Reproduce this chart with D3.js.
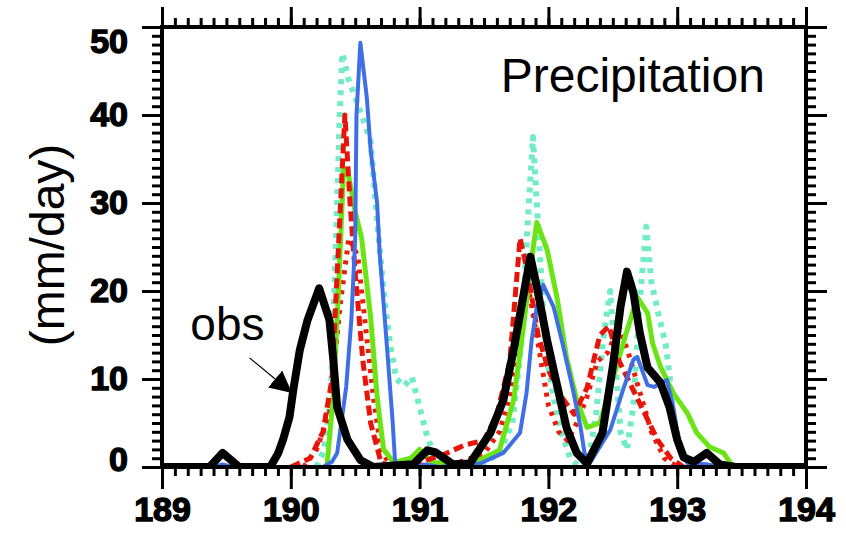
<!DOCTYPE html>
<html>
<head>
<meta charset="utf-8">
<script src="https://cdn.jsdelivr.net/npm/d3@7"></script>
<style>
  body { margin: 0; background: #fff; }
  svg text { font-family: "Liberation Sans", Arial, sans-serif; }
  .tick-label { font-weight: bold; font-size: 34px; fill: #000; stroke: #000; stroke-width: 1.4px; }
</style>
</head>
<body>
<div id="chart"></div>
<script>
// [day, mm/day]
const obs = [
  [189.0, 0], [189.37, 0], [189.47, 1.6], [189.6, 0], [189.84, 0], [189.9, 1.5], [189.94, 3.1],
  [189.99, 5.7], [190.02, 8.8], [190.07, 13.3], [190.13, 16.7], [190.22, 20.3], [190.3, 16.7],
  [190.33, 12.2], [190.36, 6.8], [190.44, 3.1], [190.54, 0.8], [190.64, 0], [190.95, 0.3],
  [191.06, 1.9], [191.12, 1.7], [191.26, 0.3], [191.39, 0.4], [191.55, 3.9], [191.65, 7.6],
  [191.73, 13.3], [191.8, 19], [191.86, 23.9], [191.91, 20.5], [191.99, 14.4], [192.07, 9.1],
  [192.14, 4.5], [192.22, 1.6], [192.3, 0.4], [192.42, 3.9], [192.5, 11.4], [192.56, 18.2],
  [192.61, 22.2], [192.66, 19.8], [192.71, 15.2], [192.77, 11.3], [192.87, 9.6], [192.94, 6.8],
  [193.0, 3.1], [193.05, 1.1], [193.13, 0.6], [193.23, 1.6], [193.33, 0.3], [193.45, 0], [194.0, 0]
];
const modelBlue = [
  [189.0, 0], [189.4, 0], [189.47, 0.3], [189.55, 0], [190.25, 0], [190.32, 0.6], [190.36, 1.6],
  [190.43, 9.1], [190.47, 16.7], [190.5, 26], [190.51, 40], [190.54, 48.2], [190.59, 42],
  [190.62, 36], [190.67, 30], [190.69, 24.3], [190.75, 13], [190.79, 5.3], [190.81, 0.5],
  [190.95, 0], [191.05, 0.3], [191.15, 0], [191.47, 0.4], [191.65, 1.6], [191.78, 3.9],
  [191.83, 8.4], [191.87, 14.4], [191.91, 18.2], [191.96, 20.7], [192.04, 18.2], [192.11, 14],
  [192.19, 8.8], [192.25, 4.5], [192.28, 1.6], [192.32, 0.4], [192.48, 4.2], [192.58, 8.8],
  [192.66, 12.2], [192.69, 12.5], [192.77, 9.3], [192.82, 9.1], [192.92, 9.9], [192.97, 6.8],
  [193.02, 2.3], [193.08, 0.4], [193.23, 0.3], [193.35, 0], [194.0, 0]
];
const modelGreen = [
  [190.28, 0], [190.33, 8], [190.37, 20], [190.41, 34], [190.45, 33], [190.5, 29], [190.55, 26],
  [190.62, 17], [190.67, 8], [190.72, 2], [190.8, 0.5], [190.93, 1], [191.0, 2], [191.1, 0.5],
  [191.4, 0.3], [191.62, 1.9], [191.73, 7.6], [191.8, 15.2], [191.88, 24.7], [191.91, 27.8],
  [191.99, 24.7], [192.07, 19], [192.14, 12.5], [192.22, 7.6], [192.3, 4.5], [192.4, 5],
  [192.5, 10], [192.6, 15], [192.69, 19.3], [192.77, 17.5], [192.81, 14], [192.87, 11.4],
  [192.97, 8.4], [193.08, 6.1], [193.15, 3.9], [193.25, 2.3], [193.36, 1.6], [193.42, 0.3],
  [193.5, 0]
];
const modelAqua = [
  [190.2, 0], [190.26, 2], [190.31, 8], [190.35, 25], [190.38, 40], [190.4, 47], [190.45, 44],
  [190.55, 40], [190.62, 37], [190.67, 28], [190.72, 20], [190.77, 14], [190.82, 10],
  [190.88, 9.2], [190.94, 10.2], [191.0, 6.8], [191.06, 3.4], [191.13, 0.8], [191.25, 0],
  [191.5, 0.5], [191.62, 1.5], [191.72, 5], [191.79, 14], [191.84, 28], [191.88, 37.5],
  [191.93, 25], [191.98, 13], [192.04, 8], [192.1, 4], [192.17, 1], [192.24, 0], [192.31, 0.5],
  [192.37, 6], [192.43, 15], [192.48, 20], [192.52, 12], [192.56, 4], [192.61, 2], [192.66, 7],
  [192.71, 19], [192.76, 27.3], [192.8, 21], [192.86, 17], [192.91, 14], [192.94, 10.5],
  [192.97, 5.7], [193.03, 2], [193.1, 0.5], [193.2, 0]
];
const modelRedA = [
  [190.0, 0], [190.15, 1], [190.25, 4], [190.32, 10], [190.37, 25], [190.42, 40], [190.46, 30],
  [190.5, 22], [190.56, 12], [190.62, 5], [190.7, 0.5], [190.8, 0], [191.0, 0.5], [191.2, 1.5],
  [191.35, 2.5], [191.5, 3], [191.6, 6], [191.7, 12], [191.78, 26], [191.84, 22], [191.92, 15],
  [192.0, 11], [192.1, 8], [192.2, 6], [192.3, 9], [192.4, 15], [192.47, 16], [192.55, 12],
  [192.65, 9], [192.75, 6], [192.85, 3], [192.95, 1], [193.05, 0]
];
const modelRedB = [
  [190.1, 0], [190.2, 2], [190.3, 6], [190.38, 18], [190.45, 26], [190.52, 24], [190.58, 16],
  [190.64, 8], [190.7, 2], [190.78, 0], [191.3, 0.5], [191.5, 1.5], [191.62, 4], [191.7, 8],
  [191.78, 16], [191.85, 20], [191.92, 14], [192.0, 7], [192.08, 4], [192.15, 3], [192.22, 5],
  [192.3, 8], [192.38, 12], [192.46, 13], [192.55, 16], [192.62, 13], [192.7, 9], [192.8, 4],
  [192.9, 1], [193.0, 0]
];

const xTicks = [189, 190, 191, 192, 193, 194];
const yTicks = [0, 10, 20, 30, 40, 50];

const width = 846;
const height = 549;
const margin = { top: 27, right: 40, bottom: 82, left: 162 };
const innerW = width - margin.left - margin.right;
const innerH = height - margin.top - margin.bottom;

const svg = d3.select('#chart').append('svg')
  .attr('width', width)
  .attr('height', height);
const g = svg.append('g').attr('transform', `translate(${margin.left},${margin.top})`);

const x = d3.scaleLinear().domain([189, 194]).range([0, innerW]);
const y = d3.scaleLinear().domain([0, 50]).range([innerH, 0]);

g.append('clipPath').attr('id', 'plot-clip')
  .append('rect').attr('width', innerW).attr('height', innerH);

// series, drawn back to front
const series = [
  { data: modelAqua, color: '#72ecc6', width: 6, dash: '5 6' },
  { data: modelRedB, color: '#ec1c0c', width: 5, dash: '4 6' },
  { data: modelGreen, color: '#6ae414', width: 5, dash: null },
  { data: modelRedA, color: '#e81408', width: 5, dash: '10 5' },
  { data: modelBlue, color: '#3f6fe4', width: 4, dash: null },
  { data: obs, color: '#000', width: 8, dash: null }
];

const line = d3.line().x(d => x(d[0])).y(d => y(d[1]));

g.append('g').attr('clip-path', 'url(#plot-clip)')
  .selectAll('path')
  .data(series)
  .join('path')
  .attr('fill', 'none')
  .attr('stroke', d => d.color)
  .attr('stroke-width', d => d.width)
  .attr('stroke-dasharray', d => d.dash)
  .attr('stroke-linejoin', 'round')
  .attr('d', d => line(d.data));

// axes: major + minor ticks all pointing outward
function styleAxis(sel) {
  sel.select('.domain').remove();
  sel.selectAll('line').attr('stroke', '#000').attr('stroke-width', 3);
}

const minorX = d3.range(1890, 1941).map(d => d / 10);
const minorY = d3.range(0, 51);

g.append('g').attr('transform', `translate(0,${innerH})`)
  .call(d3.axisBottom(x).tickValues(minorX).tickSize(9).tickFormat(''))
  .call(styleAxis);
const xAxis = g.append('g').attr('transform', `translate(0,${innerH})`)
  .call(d3.axisBottom(x).tickValues(xTicks).tickSize(22).tickPadding(8).tickFormat(d3.format('d')))
  .call(styleAxis);
xAxis.selectAll('text').attr('class', 'tick-label');

g.append('g')
  .call(d3.axisTop(x).tickValues(minorX).tickSize(9).tickFormat(''))
  .call(styleAxis);
g.append('g')
  .call(d3.axisTop(x).tickValues(xTicks).tickSize(20).tickFormat(''))
  .call(styleAxis);

g.append('g')
  .call(d3.axisLeft(y).tickValues(minorY).tickSize(10).tickFormat(''))
  .call(styleAxis);
const yAxis = g.append('g')
  .call(d3.axisLeft(y).tickValues(yTicks).tickSize(20).tickPadding(14).tickFormat(d3.format('d')))
  .call(styleAxis);
// keep the end labels inside the frame height
yAxis.selectAll('text')
  .attr('class', 'tick-label')
  .attr('y', d => Math.max(15, Math.min(innerH - 7, y(d))) - y(d));

g.append('g').attr('transform', `translate(${innerW},0)`)
  .call(d3.axisRight(y).tickValues(minorY).tickSize(10).tickFormat(''))
  .call(styleAxis);
g.append('g').attr('transform', `translate(${innerW},0)`)
  .call(d3.axisRight(y).tickValues(yTicks).tickSize(21).tickFormat(''))
  .call(styleAxis);

// frame
g.append('rect')
  .attr('width', innerW)
  .attr('height', innerH)
  .attr('fill', 'none')
  .attr('stroke', '#000')
  .attr('stroke-width', 4);

// labels
svg.append('text')
  .attr('transform', `translate(64,${margin.top + 218}) rotate(-90)`)
  .attr('text-anchor', 'middle')
  .attr('font-size', 48)
  .text('(mm/day)');

g.append('text')
  .attr('x', x(191.63))
  .attr('y', y(42.6))
  .attr('font-size', 48)
  .text('Precipitation');

// obs annotation
g.append('text')
  .attr('x', x(189.22))
  .attr('y', y(14.4))
  .attr('font-size', 46)
  .text('obs');

svg.append('defs').append('marker')
  .attr('id', 'arrow')
  .attr('viewBox', '0 0 10 10')
  .attr('refX', 10).attr('refY', 5)
  .attr('markerWidth', 22).attr('markerHeight', 22)
  .attr('markerUnits', 'userSpaceOnUse')
  .attr('orient', 'auto')
  .append('path').attr('d', 'M0,0L10,5L0,10Z').attr('fill', '#000');

g.append('line')
  .attr('x1', x(189.68)).attr('y1', y(12.4))
  .attr('x2', x(190.01)).attr('y2', y(8.4))
  .attr('stroke', '#000')
  .attr('stroke-width', 1.2)
  .attr('marker-end', 'url(#arrow)');
</script>
</body>
</html>
